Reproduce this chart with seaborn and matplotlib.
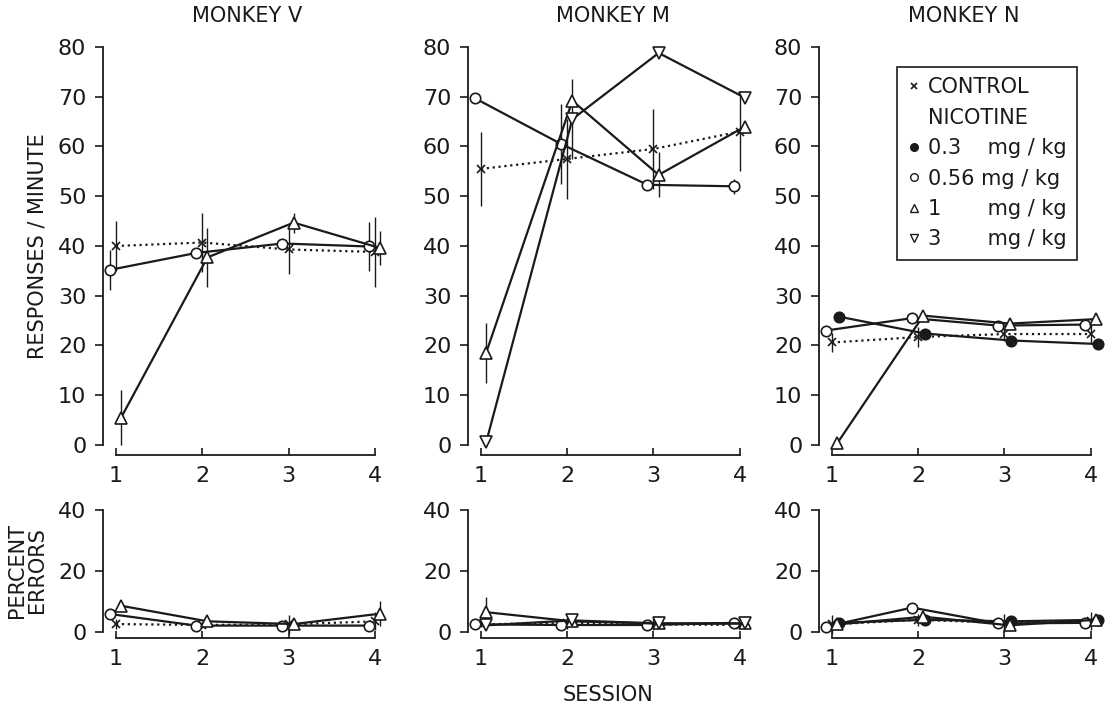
import matplotlib
matplotlib.use("Agg")
import matplotlib.pyplot as plt
from matplotlib.lines import Line2D
import pandas as pd
import seaborn as sns

# Session numbers and monkey names
sessions = [1, 2, 3, 4]
monkeys = ["MONKEY V", "MONKEY M", "MONKEY N"]

# Responses / minute (top row)
v_control = [40.0, 40.7, 39.3, 38.8]
v_control_err = [5, 6, 5, 7]
v_056 = [35.2, 38.6, 40.5, 39.9]
v_056_err = [4, 0, 0, 5]
v_1 = [5.5, 37.7, 44.7, 39.6]
v_1_err = [5.5, 6, 2, 3.5]

m_control = [55.5, 57.5, 59.5, 63.0]
m_control_err = [7.5, 8, 8, 8]
m_056 = [69.7, 60.5, 52.3, 52.0]
m_056_err = [0, 8, 0, 1.5]
m_1 = [18.5, 69.2, 54.3, 64.0]
m_1_err = [6, 0, 4.5, 0]
m_3 = [0.5, 65.5, 78.8, 69.8]
m_3_err = [0, 8, 0, 0]

n_control = [20.6, 21.7, 22.3, 22.3]
n_control_err = [2, 2, 1.5, 2]
n_03 = [25.8, 22.4, 21.0, 20.3]
n_056 = [23.0, 25.5, 24.0, 24.2]
n_1 = [0.3, 26.0, 24.4, 25.3]

# Percent errors (bottom row)
ve_control = [2.6, 2.3, 2.5, 3.5]
ve_control_err = [1.5, 1, 3, 3]
ve_056 = [5.9, 2.1, 2.1, 2.1]
ve_1 = [8.6, 3.5, 2.6, 6.0]
ve_1_err = [0, 0, 0, 4]

me_control = [2.5, 3.0, 2.5, 2.3]
me_control_err = [1, 2, 2, 1]
me_056 = [2.5, 2.3, 2.3, 3.0]
me_1 = [6.5, 3.5, 2.8, 2.8]
me_1_err = [5, 0, 0, 0]
me_3 = [2.2, 3.8, 2.8, 2.8]

ne_control = [2.5, 4.0, 3.0, 3.5]
ne_control_err = [3, 2, 3, 3]
ne_03 = [3.0, 4.0, 3.5, 4.0]
ne_056 = [1.8, 8.0, 2.8, 3.0]
ne_1 = [2.5, 5.0, 2.2, 4.0]

zero = [0, 0, 0, 0]
top_data = [
    [("control", v_control, v_control_err), ("0.56", v_056, v_056_err), ("1", v_1, v_1_err)],
    [("control", m_control, m_control_err), ("0.56", m_056, m_056_err),
     ("1", m_1, m_1_err), ("3", m_3, m_3_err)],
    [("control", n_control, n_control_err), ("0.3", n_03, zero),
     ("0.56", n_056, zero), ("1", n_1, zero)],
]
bottom_data = [
    [("control", ve_control, ve_control_err), ("0.56", ve_056, zero), ("1", ve_1, ve_1_err)],
    [("control", me_control, me_control_err), ("0.56", me_056, zero),
     ("1", me_1, me_1_err), ("3", me_3, zero)],
    [("control", ne_control, ne_control_err), ("0.3", ne_03, zero),
     ("0.56", ne_056, zero), ("1", ne_1, zero)],
]

# styles: marker, face colour, linestyle, small horizontal dodge
styles = {
    "control": dict(marker="x", mfc="k", ls=":", dodge=0.0, ms=6),
    "0.3": dict(marker="o", mfc="k", ls="-", dodge=0.08, ms=7.5),
    "0.56": dict(marker="o", mfc="white", ls="-", dodge=-0.07, ms=7.5),
    "1": dict(marker="^", mfc="white", ls="-", dodge=0.06, ms=8),
    "3": dict(marker="v", mfc="white", ls="-", dodge=0.06, ms=8),
}

sns.set_theme(style="ticks")
plt.rcParams["font.family"] = ["DejaVu Sans"]
plt.rcParams["text.color"] = "k"
plt.rcParams["xtick.color"] = "k"
plt.rcParams["ytick.color"] = "k"

fig = plt.figure(figsize=(11.1, 7.09), dpi=100)
lefts = [0.0928, 0.4216, 0.7378]
width = 0.2604


def draw_panel(ax, series, ymax, ystep):
    for name, vals, errs in series:
        st = styles[name]
        xs = [s + st["dodge"] for s in sessions]
        df = pd.DataFrame({"session": xs, "value": vals})
        lo = [v - e for v, e in zip(vals, errs)]
        hi = [v + e for v, e in zip(vals, errs)]
        ax.vlines(xs, lo, hi, color="k", lw=1.0, zorder=2, clip_on=False)
        sns.lineplot(data=df, x="session", y="value", ax=ax, color="k",
                     marker=st["marker"], markersize=st["ms"],
                     markerfacecolor=st["mfc"], markeredgecolor="k",
                     markeredgewidth=1.2, linestyle=st["ls"], lw=1.6,
                     clip_on=False, zorder=3, errorbar=None)
    ax.set_xlim(0.85, 4.2)
    ax.set_ylim(0, ymax)
    ax.set_xticks(sessions)
    ax.set_yticks(range(0, ymax + 1, ystep))
    ax.set_xlabel("")
    ax.set_ylabel("")
    sns.despine(ax=ax)
    ax.spines["left"].set_bounds(0, ymax)
    ax.spines["bottom"].set_bounds(1, 4)
    for sp in ["left", "bottom"]:
        ax.spines[sp].set_color("k")
        ax.spines[sp].set_linewidth(1.3)
    ax.tick_params(axis="y", direction="out", length=6, width=1.2,
                   labelsize=16, pad=6)
    ax.tick_params(axis="x", direction="in", length=5, width=1.2,
                   labelsize=16, pad=8)
    ax.set_facecolor("white")


for i in range(3):
    ax_top = fig.add_axes([lefts[i], 0.3724, width, 0.5613])
    draw_panel(ax_top, top_data[i], 80, 10)
    ax_top.spines["bottom"].set_position(("outward", 7))
    ax_top.set_title(monkeys[i], fontsize=15, pad=18)

    ax_bot = fig.add_axes([lefts[i], 0.1086, width, 0.1721])
    draw_panel(ax_bot, bottom_data[i], 40, 20)
    ax_bot.spines["bottom"].set_position(("outward", 4))

    if i == 2:
        handles = [
            Line2D([], [], color="k", marker="x", ls="none", ms=5, mew=1.2),
            Line2D([], [], ls="none", marker=None),
            Line2D([], [], color="k", marker="o", ls="none", ms=5.5, mfc="k", mec="k"),
            Line2D([], [], color="k", marker="o", ls="none", ms=5.5, mfc="white", mec="k"),
            Line2D([], [], color="k", marker="^", ls="none", ms=5.5, mfc="white", mec="k"),
            Line2D([], [], color="k", marker="v", ls="none", ms=5.5, mfc="white", mec="k"),
        ]
        labels = ["CONTROL", "NICOTINE", "0.3    mg / kg", "0.56 mg / kg",
                  "1       mg / kg", "3       mg / kg"]
        leg = ax_top.legend(handles, labels, loc="upper left",
                            bbox_to_anchor=(0.27, 0.95), borderaxespad=0,
                            fontsize=15, handlelength=0.6, handletextpad=0.4,
                            labelspacing=0.5, borderpad=0.5,
                            fancybox=False, framealpha=1, edgecolor="k")
        leg.get_frame().set_linewidth(1.2)

fig.text(38 / 1110, 1 - 246 / 709, "RESPONSES / MINUTE", rotation=90,
         ha="center", va="center", fontsize=15)
fig.text(27 / 1110, 1 - 570 / 709, "PERCENT\nERRORS", rotation=90,
         ha="center", va="center", fontsize=15, linespacing=0.95)
fig.text(608 / 1110, 1 - 695 / 709, "SESSION", ha="center", va="center",
         fontsize=15)

fig.savefig("out.png", dpi=100, facecolor="white")
